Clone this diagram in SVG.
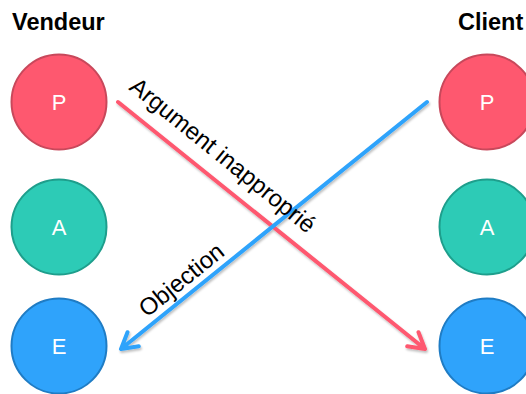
<svg xmlns="http://www.w3.org/2000/svg" width="526" height="394" viewBox="0 0 526 394">
<defs>
<style>
.title{font-family:"Liberation Sans",Arial,sans-serif;font-weight:bold;font-size:23.5px;fill:#000}
.lbl{font-family:"Liberation Sans",Arial,sans-serif;font-size:22px;fill:#fff;text-anchor:middle}
.edge{font-family:"Liberation Sans",Arial,sans-serif;font-size:24px;fill:#000}
.p{fill:#FE586F;stroke:#C8485B;stroke-width:2}
.a{fill:#2DCBB6;stroke:#1E9E8C;stroke-width:2}
.e{fill:#2FA3FB;stroke:#1F7CC4;stroke-width:2}
.ln{fill:none;stroke-width:4;stroke-linecap:round;stroke-linejoin:round}
</style>
<filter id="sh" x="-10%" y="-10%" width="120%" height="120%">
<feDropShadow dx="1" dy="2" stdDeviation="1" flood-color="#000" flood-opacity="0.25"/>
</filter>
</defs>
<rect width="526" height="394" fill="#fff"/>
<text class="title" x="12" y="30">Vendeur</text>
<text class="title" x="458" y="30">Client</text>
<g id="vP"><circle class="p" cx="59" cy="102" r="47.5"/><text class="lbl" x="59" y="110">P</text></g>
<g id="vA"><circle class="a" cx="59" cy="227" r="47.5"/><text class="lbl" x="59" y="235">A</text></g>
<g id="vE"><circle class="e" cx="59" cy="346" r="47.5"/><text class="lbl" x="59" y="354">E</text></g>
<g id="cP"><circle class="p" cx="487" cy="102" r="47.5"/><text class="lbl" x="487" y="110">P</text></g>
<g id="cA"><circle class="a" cx="487" cy="227" r="47.5"/><text class="lbl" x="487" y="235">A</text></g>
<g id="cE"><circle class="e" cx="487" cy="346" r="47.5"/><text class="lbl" x="487" y="354">E</text></g>
<g id="connectors" filter="url(#sh)">
<path class="ln" stroke="#FE586F" d="M118 102 L425 349 M418.5 332.2 L425 349 L407.2 346.2"/>
<path class="ln" stroke="#2FA3FB" d="M427 102 L121 349 M138.8 346.2 L121 349 L127.5 332.2"/>
</g>
<text class="edge" transform="translate(128,89) rotate(39)">Argument inapproprié</text>
<text class="edge" transform="translate(147,318) rotate(-38.9)">Objection</text>
</svg>
